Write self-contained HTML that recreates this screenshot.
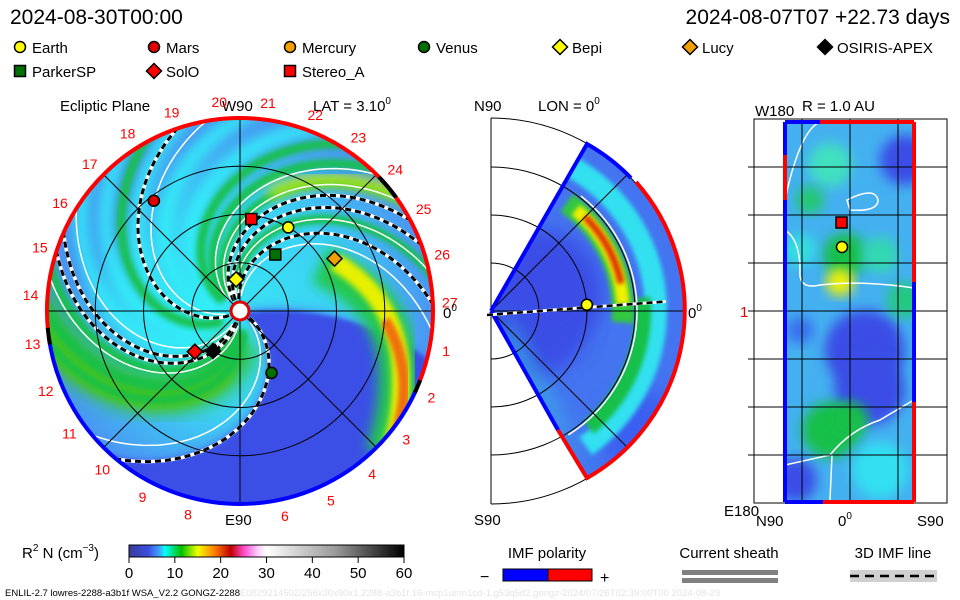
<!DOCTYPE html>
<html><head><meta charset="utf-8">
<style>
html,body{margin:0;padding:0;background:#fff;}
svg{display:block;font-family:"Liberation Sans",sans-serif;}
</style></head>
<body>
<svg id="root" width="960" height="600" viewBox="0 0 960 600" xmlns="http://www.w3.org/2000/svg">
<defs>
  <filter id="blur6" x="-20%" y="-20%" width="140%" height="140%"><feGaussianBlur stdDeviation="6"/></filter>
  <filter id="blur3" x="-20%" y="-20%" width="140%" height="140%"><feGaussianBlur stdDeviation="3"/></filter>
  <filter id="blur2" x="-20%" y="-20%" width="140%" height="140%"><feGaussianBlur stdDeviation="2"/></filter>
  <filter id="blur10" x="-30%" y="-30%" width="160%" height="160%"><feGaussianBlur stdDeviation="10"/></filter>
  <clipPath id="clipCircle"><circle cx="240" cy="311" r="193"/></clipPath>
  <clipPath id="clipWedge"><path d="M491,311 L587,144 A193,193 0 0 1 587,478 Z"/></clipPath>
  <clipPath id="clipRect"><rect x="785" y="122" width="129" height="380"/></clipPath>
  <radialGradient id="leftBase" cx="240" cy="311" r="193" gradientUnits="userSpaceOnUse">
    <stop offset="0" stop-color="#38e4f4"/>
    <stop offset="0.55" stop-color="#3cd0f4"/>
    <stop offset="1" stop-color="#4a96f2"/>
  </radialGradient>
  <linearGradient id="cbar" x1="0" x2="1" y1="0" y2="0">
    <stop offset="0" stop-color="#3a3a9a"/>
    <stop offset="0.07" stop-color="#3b4fe0"/>
    <stop offset="0.11" stop-color="#40a0ff"/>
    <stop offset="0.13" stop-color="#00ffff"/>
    <stop offset="0.19" stop-color="#00c000"/>
    <stop offset="0.25" stop-color="#f0ff00"/>
    <stop offset="0.31" stop-color="#ff8000"/>
    <stop offset="0.37" stop-color="#c00000"/>
    <stop offset="0.42" stop-color="#ff50d0"/>
    <stop offset="0.47" stop-color="#ffd0ff"/>
    <stop offset="0.5" stop-color="#ffffff"/>
    <stop offset="0.75" stop-color="#9a9a9a"/>
    <stop offset="1" stop-color="#000000"/>
  </linearGradient>
</defs>

<text x="10" y="24" font-size="21">2024-08-30T00:00</text>
<text x="950" y="24" font-size="21" text-anchor="end">2024-08-07T07 +22.73 days</text>

<g id="legend"></g>

<text x="60" y="111" font-size="15">Ecliptic Plane</text>
<text x="222" y="111" font-size="15">W90</text>
<text x="313" y="111" font-size="15">LAT = 3.10<tspan font-size="10" dy="-7">0</tspan></text>
<text x="474" y="111" font-size="15">N90</text>
<text x="538" y="111" font-size="15">LON = 0<tspan font-size="10" dy="-7">0</tspan></text>
<text x="755" y="116" font-size="15">W180</text>
<text x="802" y="111" font-size="15">R = 1.0 AU</text>

<g id="left">
  <g clip-path="url(#clipCircle)" id="leftField">
    <circle cx="240" cy="311" r="193" fill="url(#leftBase)"/>
  </g>
  <g id="leftGrid"></g>
  <g id="leftRim"></g>
  <g id="leftLabels"></g>
  <g id="leftBodies"></g>
  <circle cx="240" cy="311" r="9" fill="#fff" stroke="#e00000" stroke-width="3"/>
  <rect x="222" y="510" width="36" height="18" fill="#fff"/>
  <text x="225" y="525" font-size="15">E90</text>
  <text x="443" y="318" font-size="15">0<tspan font-size="10" dy="-7">0</tspan></text>
</g>

<g id="mid">
  <g clip-path="url(#clipWedge)" id="midField">
    <rect x="480" y="130" width="220" height="360" fill="#4474f0"/>
  </g>
  <g id="midGrid"></g>
  <text x="474" y="525" font-size="15">S90</text>
  <text x="688" y="318" font-size="15">0<tspan font-size="10" dy="-7">0</tspan></text>
</g>

<g id="right">
  <g clip-path="url(#clipRect)" id="rightField">
    <rect x="785" y="122" width="129" height="380" fill="#44b0f0"/>
  </g>
  <g id="rightGrid"></g>
  <text x="740" y="317" font-size="15" fill="#e00000">1</text>
  <text x="724" y="516" font-size="15">E180</text>
  <text x="756" y="526" font-size="15">N90</text>
  <text x="838" y="526" font-size="15">0<tspan font-size="10" dy="-7">0</tspan></text>
  <text x="917" y="526" font-size="15">S90</text>
</g>

<g id="colorbar">
  <text x="22" y="558" font-size="15">R<tspan font-size="10" dy="-7">2</tspan><tspan dy="7"> N (cm</tspan><tspan font-size="10" dy="-7">−3</tspan><tspan dy="7">)</tspan></text>
  <rect x="129" y="545" width="275" height="12" fill="url(#cbar)" stroke="#000" stroke-width="1"/>
</g>

<g>
  <text x="547" y="558" font-size="15" text-anchor="middle">IMF polarity</text>
  <text x="480" y="582" font-size="16">−</text>
  <rect x="503" y="569" width="45" height="12" fill="#0000ff" stroke="#000"/>
  <rect x="548" y="569" width="44" height="12" fill="#ff0000" stroke="#000"/>
  <text x="600" y="583" font-size="16">+</text>
</g>
<g>
  <text x="729" y="558" font-size="15" text-anchor="middle">Current sheath</text>
  <rect x="682" y="570" width="96" height="5" fill="#808080"/>
  <rect x="682" y="578" width="96" height="5" fill="#808080"/>
</g>
<g>
  <text x="893" y="558" font-size="15" text-anchor="middle">3D IMF line</text>
  <rect x="850" y="570" width="87" height="12" fill="#d0d0d0"/>
  <line x1="850" y1="576" x2="937" y2="576" stroke="#000" stroke-width="2.5" stroke-dasharray="9,6"/>
</g>

<text x="5" y="596" font-size="9.5">ENLIL-2.7 lowres-2288-a3b1f WSA_V2.2 GONGZ-2288<tspan fill="#e4e4e4">E0829214502/256x30x90x1 2288-a3b1f.16-mcp1umn1cd-1.g53q5d2.gongz-2024/07/26T02:39:00T00    2024-08-29</tspan></text>

<script>
// ---------- Data ----------
const colorbarTicks = [0, 10, 20, 30, 40, 50, 60];
const carringtonLabels = [1,2,3,4,5,6,7,8,9,10,11,12,13,14,15,16,17,18,19,20,21,22,23,24,25,26,27];
const bodyNames  = ["Earth","Mars","Mercury","Venus","Bepi","Lucy","OSIRIS-APEX","ParkerSP","SolO","Stereo_A"];
const bodyShapes = ["circle","circle","circle","circle","diamond","diamond","diamond","square","diamond","square"];
const bodyColors = ["#ffff00","#e00000","#f0a000","#007000","#ffff00","#f0a000","#000000","#007000","#ff0000","#ff0000"];
const bodyRadiusAU = [1.0, 1.45, 0.34, 0.72, 0.33, 1.12, 0.5, 0.69, 0.63, 0.96];
const bodyAngleDeg = [-60, -128, -95, 63, -97, -29, 124, -58, 138, -83];
const legendRow = [0,0,0,0,0,0,0,1,1,1];
const legendX   = [20,154,290,424,560,690,825,20,154,290];
const fieldLineStarts = [30, 151, 98, 104, 232, 240, 258];
const whiteContourStarts = [40, 160, 90, 112, 225, 248, 266, 215];
const greenBandStarts = [200, 212, 224, 248, 70, 80, 92, 140];
const cyanBandStarts = [150, 170, 115, 130, 190];
const spiralWind = 100;
const earthLatDeg = 3.1;

// ---------- Helpers ----------
const NS = "http://www.w3.org/2000/svg";
const CX = 240, CY = 311, R = 193, AU = 96.5;
const MX = 491, MY = 311;
function mk(tag, attrs, parent) {
  const e = document.createElementNS(NS, tag);
  for (const k in attrs) e.setAttribute(k, attrs[k]);
  parent.appendChild(e);
  return e;
}
function polar(rAU, deg) {
  const a = deg * Math.PI / 180;
  return [CX + rAU * AU * Math.cos(a), CY + rAU * AU * Math.sin(a)];
}
function spiralD(phi0, r1, r2) {
  let d = "";
  for (let i = 0; i <= 60; i++) {
    const r = r1 + (r2 - r1) * i / 60;
    const a = (phi0 + spiralWind * r / R) * Math.PI / 180;
    d += (i ? "L" : "M") + (CX + r * Math.cos(a)).toFixed(1) + "," + (CY + r * Math.sin(a)).toFixed(1);
  }
  return d;
}
function drawMarker(shape, color, x, y, parent, s) {
  let el;
  if (shape === "circle") el = mk("circle", {cx: x, cy: y, r: s}, parent);
  else if (shape === "square") el = mk("rect", {x: x - s, y: y - s, width: 2 * s, height: 2 * s}, parent);
  else el = mk("polygon", {points: `${x},${y - s - 2} ${x + s + 2},${y} ${x},${y + s + 2} ${x - s - 2},${y}`}, parent);
  el.setAttribute("fill", color);
  el.setAttribute("stroke", "#000");
  el.setAttribute("stroke-width", "1.5");
  return el;
}

// ---------- Legend ----------
const legend = document.getElementById("legend");
bodyNames.forEach((n, i) => {
  const y = legendRow[i] ? 72 : 48;
  const g = mk("g", {}, legend);
  
  
  drawMarker(bodyShapes[i], bodyColors[i], legendX[i], y - 1, g, 5.5);
  const t = mk("text", {x: legendX[i] + 12, y: y + 5, "font-size": 15}, g);
  t.textContent = n;
});

// ---------- Left field ----------
const lf = document.getElementById("leftField");
(function () {
  const p = mk("path", {d: "M60,250 Q80,150 200,115 Q150,160 130,220 Q110,280 60,300 Z", fill: "#4a90f0", filter: "url(#blur10)", opacity: 0.8}, lf);
  
  
})();
cyanBandStarts.forEach(s => {
  const p = mk("path", {d: spiralD(s, 20, 210), fill: "none", stroke: "#30f0f8", "stroke-width": 14, filter: "url(#blur6)", opacity: 0.9}, lf);
  
  
});
(function () {
  const p = mk("path", {d: spiralD(75, 30, 210), fill: "none", stroke: "#30c030", "stroke-width": 40, filter: "url(#blur10)"}, lf);
  
  
  const q = mk("path", {d: spiralD(70, 60, 210), fill: "none", stroke: "#60c800", "stroke-width": 14, filter: "url(#blur6)"}, lf);
  
  
})();
greenBandStarts.forEach(s => {
  const p = mk("path", {d: spiralD(s, 20, 210), fill: "none", stroke: "#18c048", "stroke-width": 9, filter: "url(#blur3)"}, lf);
  
  
});
(function () {
  const p = mk("path", {d: spiralD(222, 120, 210), fill: "none", stroke: "#d8f000", "stroke-width": 10, filter: "url(#blur6)"}, lf);
  
  
})();
// dark blue region (lower right), outer edge follows an arc
(function () {
  const RO = 240;
  let d = "M" + CX + "," + CY;
  for (let i = 0; i <= 40; i++) { const r = 8 + (RO - 8) * i / 40; const a = (-8 + 22 * r / R) * Math.PI / 180; d += "L" + (CX + r * Math.cos(a)) + "," + (CY + r * Math.sin(a)); }
  const aStart = -8 + 22 * RO / R, aEnd = 32 + spiralWind * RO / R;
  for (let i = 1; i < 30; i++) { const a = (aStart + (aEnd - aStart) * i / 30) * Math.PI / 180; d += "L" + (CX + RO * Math.cos(a)) + "," + (CY + RO * Math.sin(a)); }
  for (let i = 0; i <= 40; i++) { const r = RO - (RO - 8) * i / 40; const a = (32 + spiralWind * r / R) * Math.PI / 180; d += "L" + (CX + r * Math.cos(a)) + "," + (CY + r * Math.sin(a)); }
  const p0 = mk("path", {d: d + "Z", fill: "#4a8cf4", filter: "url(#blur6)"}, lf);
  
  
  const p = mk("path", {d: d + "Z", fill: "#3a4fe6", filter: "url(#blur2)", transform: "translate(2,2)"}, lf);
  
  
})();
(function () {
  const p1 = mk("path", {d: "M320,265 Q390,295 398,360 Q402,410 385,455", fill: "none", stroke: "#20c850", "stroke-width": 40, filter: "url(#blur6)"}, lf);
  
  
  const p2 = mk("path", {d: "M335,262 Q392,295 400,360 Q404,405 392,445", fill: "none", stroke: "#e8f000", "stroke-width": 18, filter: "url(#blur3)"}, lf);
  
  
  const p3 = mk("path", {d: "M385,320 Q403,350 404,385 Q404,410 396,435", fill: "none", stroke: "#f07010", "stroke-width": 11, filter: "url(#blur2)"}, lf);
  
  
})();
whiteContourStarts.forEach(s => {
  const p = mk("path", {d: spiralD(s, 15, 200), fill: "none", stroke: "#fff", "stroke-width": 1.5}, lf);
  
  
});
fieldLineStarts.forEach(s => {
  const d = spiralD(s, 12, 200);
  const p = mk("path", {d: d, fill: "none", stroke: "#fff", "stroke-width": 3.5}, lf);
  
  
  const q = mk("path", {d: d, fill: "none", stroke: "#000", "stroke-width": 3, "stroke-dasharray": "6,4"}, lf);
  
  
});

// ---------- Left grid ----------
const lg = document.getElementById("leftGrid");
[0.5, 1, 1.5].forEach(r => {
  const c = mk("circle", {cx: CX, cy: CY, r: r * AU, fill: "none", stroke: "#000", "stroke-width": 1}, lg);
  
  
});
[0, 45, 90, 135].forEach(a => {
  const r = a * Math.PI / 180;
  const l = mk("line", {x1: CX - R * Math.cos(r), y1: CY - R * Math.sin(r), x2: CX + R * Math.cos(r), y2: CY + R * Math.sin(r), stroke: "#000", "stroke-width": 1}, lg);
  
  
});
const rim = document.getElementById("leftRim");
function arc(a1, a2, color, w) {
  const p1 = [CX + R * Math.cos(a1 * Math.PI / 180), CY + R * Math.sin(a1 * Math.PI / 180)];
  const p2 = [CX + R * Math.cos(a2 * Math.PI / 180), CY + R * Math.sin(a2 * Math.PI / 180)];
  const large = ((a2 - a1 + 360) % 360) > 180 ? 1 : 0;
  const p = mk("path", {d: `M${p1[0]},${p1[1]} A${R},${R} 0 ${large} 1 ${p2[0]},${p2[1]}`, fill: "none", stroke: color, "stroke-width": w}, rim);
  
  
}
arc(174, 382, "#ff0000", 4);
arc(24, 172, "#0000ff", 4);
arc(-44, -36, "#000", 4);
arc(170, 175, "#000", 4);
arc(21, 25, "#000", 4);
const ll = document.getElementById("leftLabels");
carringtonLabels.forEach(k => {
  const a = (11 + (k - 1) * 360 / 27) * Math.PI / 180;
  const t = mk("text", {x: CX + 210 * Math.cos(a), y: CY + 210 * Math.sin(a) + 5, "font-size": 14, fill: "#ff0000", "text-anchor": "middle"}, ll);
  
  
  t.textContent = k;
});
const lb = document.getElementById("leftBodies");
bodyNames.forEach((n, i) => {
  const [x, y] = polar(bodyRadiusAU[i], bodyAngleDeg[i]);
  const m = drawMarker(bodyShapes[i], bodyColors[i], x, y, lb, 5.5);
  
  
});

// ---------- Middle field ----------
const mf = document.getElementById("midField");
function midArc(r, a1, a2, color, w, parent, filt) {
  const p1 = [MX + r * Math.cos(a1 * Math.PI / 180), MY + r * Math.sin(a1 * Math.PI / 180)];
  const p2 = [MX + r * Math.cos(a2 * Math.PI / 180), MY + r * Math.sin(a2 * Math.PI / 180)];
  const attrs = {d: `M${p1[0]},${p1[1]} A${r},${r} 0 0 1 ${p2[0]},${p2[1]}`, fill: "none", stroke: color, "stroke-width": w};
  if (filt) attrs.filter = filt;
  return mk("path", attrs, parent);
}
[[30, 0, 70, "#3a4ee6"], [50, -20, 60, "#3a4ee6"], [150, 120, 40, "#3a5ef0"]].forEach(v => {
  const c = mk("circle", {cx: MX + v[0], cy: MY + v[1], r: v[2], fill: v[3], filter: "url(#blur10)"}, mf);
  
  
});
(function () {
  const c = mk("path", {d: "M500,310 L560,420 L590,480 L510,350 Z", fill: "#30e0e0", filter: "url(#blur10)"}, mf);
  
  
})();
[[165, -70, 55, "#30e0f0", 22], [152, -5, 50, "#18c048", 16], [132, -55, 5, "#30c840", 22], [132, -50, -3, "#f0f000", 13], [133, -45, -12, "#e03000", 7]].forEach(v => {
  const p = midArc(v[0], v[1], v[2], v[3], v[4], mf, "url(#blur2)");
  
  
});
(function () {
  const w = midArc(146, -52, 58, "#fff", 1.5, mf);
  
  
})();
const mg = document.getElementById("midGrid");
[48, 96, 144, 193].forEach(r => {
  const p = midArc(r, -90, 90, "#000", 1, mg);
  
  
});
(function () {
  const l = mk("line", {x1: MX, y1: 118, x2: MX, y2: 504, stroke: "#000"}, mg);
  
  
  [-45, 0, 45].forEach(a => {
    const r = a * Math.PI / 180;
    const g = mk("line", {x1: MX, y1: MY, x2: MX + 193 * Math.cos(r), y2: MY + 193 * Math.sin(r), stroke: "#000"}, mg);
    
    
  });
  const b1 = mk("path", {d: "M491,311 L587,144 A193,193 0 0 1 631,178", fill: "none", stroke: "#0000ff", "stroke-width": 4}, mg);
  
  
  const b2 = mk("path", {d: "M636,182 A193,193 0 0 1 587,478 L558,430", fill: "none", stroke: "#ff0000", "stroke-width": 4}, mg);
  
  
  const b3 = mk("path", {d: "M558,430 L491,311", fill: "none", stroke: "#0000ff", "stroke-width": 4}, mg);
  
  
  const ea = -earthLatDeg * Math.PI / 180;
  const bg = mk("line", {x1: MX - 4, y1: MY + 4, x2: MX + 175 * Math.cos(ea), y2: MY + 175 * Math.sin(ea), stroke: "#fff", "stroke-width": 3}, mg);
  
  
  const fl = mk("line", {x1: MX - 4, y1: MY + 4, x2: MX + 175 * Math.cos(ea), y2: MY + 175 * Math.sin(ea), stroke: "#000", "stroke-width": 2.5, "stroke-dasharray": "6,4"}, mg);
  
  
  const e = mk("circle", {cx: MX + 96 * Math.cos(ea), cy: MY + 96 * Math.sin(ea) - 1, r: 5.5, fill: "#ffff00", stroke: "#000", "stroke-width": 1.5}, mg);
  
  
})();

// ---------- Right field ----------
const rf = document.getElementById("rightField");
[[865, 350, 40, "#3a4ee6"], [870, 390, 35, "#3a4ee6"], [905, 160, 25, "#3a4ee6"], [795, 480, 22, "#3a4ee6"], [800, 330, 14, "#3a6ef0"],
 [880, 470, 28, "#30e0f0"], [830, 430, 28, "#18c048"], [850, 420, 18, "#18c048"], [845, 255, 22, "#18c048"], [880, 255, 18, "#30d8b0"],
 [840, 282, 14, "#f0f000"], [905, 300, 18, "#20c880"], [800, 250, 16, "#30e0e0"], [830, 165, 22, "#40e0c0"], [810, 200, 14, "#20c870"]].forEach(v => {
  const c = mk("circle", {cx: v[0], cy: v[1], r: v[2], fill: v[3], filter: "url(#blur6)"}, rf);
  
  
});
(function () {
  const w1 = mk("path", {d: "M785,200 Q800,130 820,122 M785,230 Q800,240 800,270 Q798,290 820,285 Q860,280 914,288 M785,465 L830,455 Q850,430 880,420 Q905,405 914,400 M830,500 L832,455", fill: "none", stroke: "#fff", "stroke-width": 1.5}, rf);
  
  
  const w2 = mk("path", {d: "M847,200 Q875,186 878,200 Q878,212 850,210 Z", fill: "none", stroke: "#fff", "stroke-width": 1.5}, rf);
  
  
})();
const rg = document.getElementById("rightGrid");
(function () {
  const box = mk("rect", {x: 754, y: 119, width: 193, height: 384, fill: "none", stroke: "#000"}, rg);
  
  
  [802, 850, 898].forEach(x => {
    const l = mk("line", {x1: x, y1: 119, x2: x, y2: 503, stroke: "#000"}, rg);
    
    
  });
  [167, 215, 263, 311, 359, 407, 455].forEach(y => {
    const l = mk("line", {x1: 748, y1: y, x2: 947, y2: y, stroke: "#000"}, rg);
    
    
  });
  const segs = [[785, 122, 785, 155, "#0000ff"], [785, 155, 785, 200, "#ff0000"], [785, 200, 785, 502, "#0000ff"],
    [914, 122, 914, 282, "#ff0000"], [914, 282, 914, 402, "#0000ff"], [914, 402, 914, 502, "#ff0000"],
    [785, 122, 820, 122, "#0000ff"], [820, 122, 914, 122, "#ff0000"], [785, 502, 823, 502, "#0000ff"], [823, 502, 914, 502, "#ff0000"]];
  segs.forEach(s => {
    const l = mk("line", {x1: s[0], y1: s[1], x2: s[2], y2: s[3], stroke: s[4], "stroke-width": 4}, rg);
    
    
  });
  const sa = mk("rect", {x: 836, y: 217, width: 11, height: 11, fill: "#ff0000", stroke: "#000", "stroke-width": 1.5}, rg);
  
  
  const e = mk("circle", {cx: 842, cy: 247, r: 5.5, fill: "#ffff00", stroke: "#000", "stroke-width": 1.5}, rg);
  
  
})();

// ---------- Colorbar ticks ----------
const cb = document.getElementById("colorbar");
colorbarTicks.forEach(v => {
  const x = 129 + v / 60 * 275;
  const l = mk("line", {x1: x, y1: 557, x2: x, y2: 563, stroke: "#000"}, cb);
  
  
  const t = mk("text", {x: x, y: 578, "font-size": 15, "text-anchor": "middle"}, cb);
  
  
  t.textContent = v;
});
</script>
</svg>
</body></html>
